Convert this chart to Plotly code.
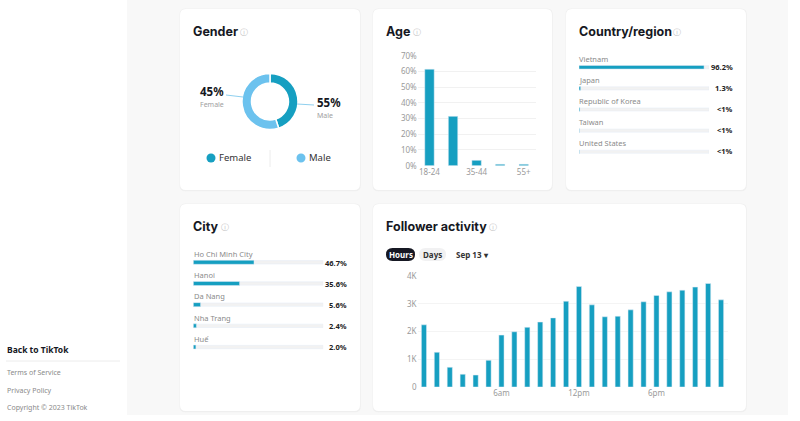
import plotly.graph_objects as go

W, H = 800, 421
def px(x): return x / W
def py(y): return 1 - y / H

FONT = "Noto Sans, sans-serif"
TEAL = "#169fc1"
LIGHT = "#6cc2ee"

# ---------------- data ----------------
gender_labels = ["Female", "Male"]
gender_values = [45, 55]

age_groups = ["18-24", "25-34", "35-44", "45-54", "55+"]
age_values = [61.4, 31.4, 3.4, 0.9, 0.9]
age_ticks = ["18-24", "35-44", "55+"]

countries = ["Vietnam", "Japan", "Republic of Korea", "Taiwan", "United States"]
country_values = [96.2, 1.3, 0.7, 0.3, 0.3]
country_text = ["96.2%", "1.3%", "<1%", "<1%", "<1%"]

cities = ["Ho Chi Minh City", "Hanoi", "Da Nang", "Nha Trang", "Huế"]
city_values = [46.7, 35.6, 5.6, 2.4, 2.0]
city_text = ["46.7%", "35.6%", "5.6%", "2.4%", "2.0%"]

hours = list(range(24))
activity = [2240, 1250, 710, 460, 430, 960, 1870, 1990, 2150, 2340, 2490,
            3090, 3620, 2960, 2530, 2550, 2780, 3070, 3300, 3430, 3490, 3600, 3730, 3140]
hour_tickvals = [6, 12, 18]
hour_ticktext = ["6am", "12pm", "6pm"]
act_tickvals = [0, 1000, 2000, 3000, 4000]
act_ticktext = ["0", "1K", "2K", "3K", "4K"]

fig = go.Figure()

# ---------------- gender donut ----------------
fig.add_trace(go.Pie(
    labels=gender_labels, values=gender_values, hole=0.66, sort=False,
    direction="counterclockwise", rotation=0,
    marker=dict(colors=[TEAL, LIGHT], line=dict(color="white", width=1.5)),
    textinfo="none", showlegend=False, hoverinfo="label+percent",
    domain=dict(x=[px(242), px(298)], y=[py(129.5), py(73.5)]),
))

# ---------------- age bars ----------------
fig.add_trace(go.Bar(x=age_groups, y=age_values, marker_color=TEAL,
                     xaxis="x", yaxis="y", showlegend=False))

# ---------------- country bars ----------------
fig.add_trace(go.Bar(y=countries, x=[100] * len(countries), orientation="h",
                     marker_color="#f2f2f2", width=0.15, xaxis="x2", yaxis="y2",
                     showlegend=False, hoverinfo="skip"))
fig.add_trace(go.Bar(y=countries, x=country_values, orientation="h",
                     marker_color=TEAL, width=0.17, xaxis="x2", yaxis="y2",
                     showlegend=False))

# ---------------- city bars ----------------
fig.add_trace(go.Bar(y=cities, x=[100] * len(cities), orientation="h",
                     marker_color="#f2f2f2", width=0.16, xaxis="x3", yaxis="y3",
                     showlegend=False, hoverinfo="skip"))
fig.add_trace(go.Bar(y=cities, x=city_values, orientation="h",
                     marker_color=TEAL, width=0.19, xaxis="x3", yaxis="y3",
                     showlegend=False))

# ---------------- follower activity ----------------
fig.add_trace(go.Bar(x=hours, y=activity, marker_color=TEAL,
                     xaxis="x4", yaxis="y4", showlegend=False))

tickfont = dict(family=FONT, size=8, color="#9a9a9a")
hidden = dict(visible=False, showgrid=False, zeroline=False, fixedrange=True)

fig.update_layout(
    width=W, height=H, margin=dict(l=0, r=0, t=0, b=0, pad=0, autoexpand=False),
    paper_bgcolor="white", plot_bgcolor="rgba(0,0,0,0)",
    barmode="overlay", bargap=0.6, font=dict(family=FONT),
    xaxis=dict(domain=[px(417.7), px(535.5)], anchor="y", type="category",
               categoryorder="array", categoryarray=age_groups,
               tickmode="array", tickvals=age_ticks, ticktext=age_ticks,
               tickfont=tickfont, showgrid=False, zeroline=False, showline=False, ticks="",
               automargin=False),
    yaxis=dict(domain=[py(165.7), py(55.7)], anchor="x", range=[0, 70], dtick=10,
               ticksuffix="%", tickfont=tickfont, gridcolor="#f1f1f1", gridwidth=1,
               zeroline=False, showline=False, automargin=False),
    xaxis2=dict(domain=[px(579), px(709)], anchor="y2", range=[0, 100], **hidden),
    yaxis2=dict(domain=[py(162.3), py(56.7)], anchor="x2", type="category",
                categoryorder="array", categoryarray=countries,
                range=[4.5, -0.5], **hidden),
    xaxis3=dict(domain=[px(193.3), px(323.3)], anchor="y3", range=[0, 100], **hidden),
    yaxis3=dict(domain=[py(357.6), py(251.7)], anchor="x3", type="category",
                categoryorder="array", categoryarray=cities,
                range=[4.5, -0.5], **hidden),
    xaxis4=dict(domain=[px(417.5), px(727.5)], anchor="y4", range=[-0.5, 23.5],
                tickmode="array", tickvals=hour_tickvals, ticktext=hour_ticktext,
                tickfont=tickfont, showgrid=False, zeroline=False, showline=False, ticks="",
                automargin=False),
    yaxis4=dict(domain=[py(387), py(276)], anchor="x4", range=[0, 4000],
                tickmode="array", tickvals=act_tickvals, ticktext=act_ticktext,
                tickfont=tickfont, gridcolor="#f4f4f4", zeroline=False, showline=False,
                automargin=False),
)

# ---------------- background shapes ----------------
def rrect(x0, y0, x1, y1, r=6):
    X0, X1 = px(x0), px(x1)
    Y0, Y1 = py(y0), py(y1)
    rx, ry = r / W, r / H
    return (f"M {X0+rx},{Y0} L {X1-rx},{Y0} Q {X1},{Y0} {X1},{Y0-ry} "
            f"L {X1},{Y1+ry} Q {X1},{Y1} {X1-rx},{Y1} L {X0+rx},{Y1} "
            f"Q {X0},{Y1} {X0},{Y1+ry} L {X0},{Y0-ry} Q {X0},{Y0} {X0+rx},{Y0} Z")

shapes = [dict(type="rect", xref="paper", yref="paper", x0=px(127), x1=px(788),
               y0=py(415), y1=py(0), fillcolor="#f8f8f8", line_width=0, layer="below")]
cards = [(180, 9, 360, 190), (373, 9, 552, 190), (566, 9, 746, 190),
         (180, 204, 360, 411), (373, 204, 746, 411)]
for (a, b, c, d) in cards:
    shapes.append(dict(type="path", xref="paper", yref="paper", path=rrect(a - 0.5, b - 0.5, c + 0.8, d + 1.2),
                       fillcolor="#efefef", line_width=0, layer="below"))
    shapes.append(dict(type="path", xref="paper", yref="paper", path=rrect(a, b, c, d),
                       fillcolor="white", line_width=0, layer="below"))

# gender connector lines
shapes.append(dict(type="line", xref="paper", yref="paper", x0=px(226), y0=py(95),
                   x1=px(243), y1=py(97), line=dict(color="#8fd0ef", width=1)))
shapes.append(dict(type="line", xref="paper", yref="paper", x0=px(297), y0=py(104),
                   x1=px(314), y1=py(105), line=dict(color="#8fd0ef", width=1)))
# gender legend dots & divider
for cx, col in [(211, TEAL), (301, LIGHT)]:
    shapes.append(dict(type="circle", xref="paper", yref="paper",
                       x0=px(cx - 4.5), x1=px(cx + 4.5), y0=py(162.5), y1=py(153.5),
                       fillcolor=col, line_width=0))
shapes.append(dict(type="line", xref="paper", yref="paper", x0=px(270), x1=px(270),
                   y0=py(150), y1=py(167), line=dict(color="#ececec", width=1)))
# sidebar divider
shapes.append(dict(type="line", xref="paper", yref="paper", x0=px(6), x1=px(120),
                   y0=py(361), y1=py(361), line=dict(color="#ececec", width=1)))
# buttons
shapes.append(dict(type="path", xref="paper", yref="paper", path=rrect(386, 248, 415, 261, 6.5),
                   fillcolor="#161823", line_width=0))
shapes.append(dict(type="path", xref="paper", yref="paper", path=rrect(419, 248, 446, 261, 6.5),
                   fillcolor="#f1f1f2", line_width=0))
fig.update_layout(shapes=shapes)

# ---------------- annotations ----------------
ann = []
def txt(x, y, s, size=8, color="#8a8a8a", anchor="left", bold=False, family=FONT):
    if bold:
        s = f"<b>{s}</b>"
    if anchor == "left":
        x -= 2
    elif anchor == "right":
        x += 2
    ann.append(dict(x=px(x), y=py(y), xref="paper", yref="paper", text=s, showarrow=False,
                    xanchor=anchor, yanchor="middle",
                    font=dict(family=family, size=size, color=color)))

TITLE = "Inter, Noto Sans, sans-serif"
for (x, y, s, w) in [(193, 31, "Gender", 45), (386, 31, "Age", 25), (579, 31, "Country/region", 92),
                     (193, 226, "City", 26), (386, 226, "Follower activity", 101)]:
    txt(x, y, s, size=12.5, color="#161823", bold=True, family=TITLE)
    txt(x + w + 2, y, "ⓘ", size=8, color="#c2c2c2")

# gender labels
txt(224, 91.5, "45%", size=11.5, color="#161823", anchor="right", bold=True)
txt(224, 104.5, "Female", size=7, color="#a0a0a0", anchor="right")
txt(317, 102.5, "55%", size=11.5, color="#161823", bold=True)
txt(317, 115.5, "Male", size=7, color="#a0a0a0")
txt(219, 158, "Female", size=9.5, color="#333333")
txt(309, 158, "Male", size=9.5, color="#333333")

# country rows
for i, (c, t) in enumerate(zip(countries, country_text)):
    ly = 59 + i * 21.1
    txt(579, ly, c, size=7.5, color="#8a8a8a")
    txt(733, ly + 8, t, size=7.5, color="#222222", anchor="right", bold=True)
# city rows
for i, (c, t) in enumerate(zip(cities, city_text)):
    ly = 254 + i * 21.2
    txt(193.5, ly, c, size=7.5, color="#8a8a8a")
    txt(347, ly + 8.5, t, size=7.5, color="#222222", anchor="right", bold=True)

# buttons text
txt(400.5, 254.5, "Hours", size=8, color="white", anchor="center", bold=True)
txt(432.5, 254.5, "Days", size=8, color="#333333", anchor="center", bold=True)
txt(456, 254.5, "Sep 13 ▾", size=8, color="#333333", bold=True)

# sidebar
txt(7, 349, "Back to TikTok", size=8.5, color="#161823", bold=True)
txt(7, 372, "Terms of Service", size=7, color="#8a8a8a")
txt(7, 390, "Privacy Policy", size=7, color="#8a8a8a")
txt(7, 407, "Copyright © 2023 TikTok", size=7, color="#8a8a8a")

fig.update_layout(annotations=ann)
fig.write_html("out.html", config={"displayModeBar": False},
               post_script="document.body.style.margin='0';document.body.style.overflow='hidden';")
